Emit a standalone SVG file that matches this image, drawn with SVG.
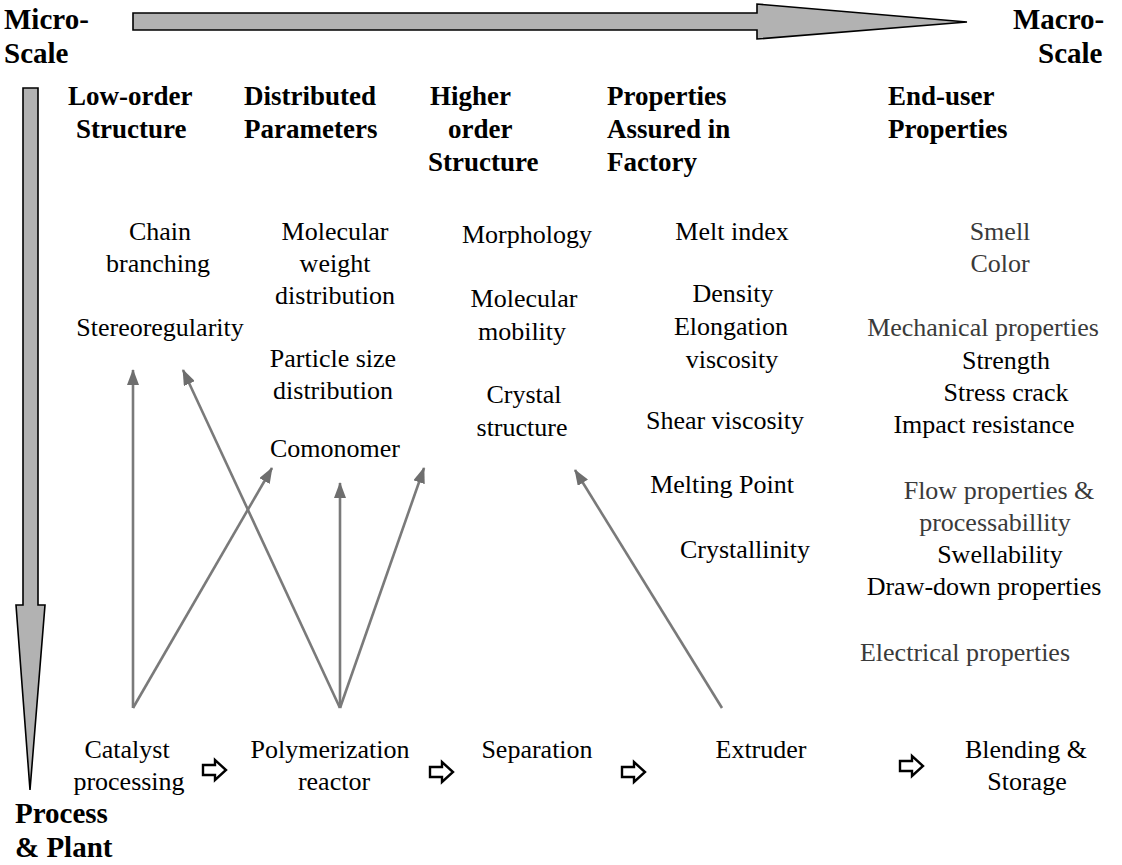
<svg xmlns="http://www.w3.org/2000/svg" width="1122" height="865" viewBox="0 0 1122 865">
<defs>
<marker id="ah" markerWidth="16" markerHeight="12" refX="15" refY="6" orient="auto" markerUnits="userSpaceOnUse">
<path d="M0,0 L16,6 L0,12 Z" fill="#6e6e6e"/>
</marker>
<path id="ha" d="M0,-5 H12 V-10 L23,0 L12,10 V5 H0 Z"/>
</defs>
<rect width="1122" height="865" fill="#fff"/>

<g id="scale-arrows" fill="#b2b2b2" stroke="#000" stroke-width="1.6">
<polygon points="133,13 757,13 757,4 967,22 757,39 757,30 133,30"/>
<polygon points="23,88 38,88 38,605 45,605 30,790 16,605 23,605"/>
</g>

<g id="axis-labels">
<text x="4" y="29" font-size="29" font-weight="bold" font-family="Liberation Serif">Micro-</text>
<text x="4" y="63" font-size="29" font-weight="bold" font-family="Liberation Serif">Scale</text>
<text x="1013" y="29" font-size="29" font-weight="bold" font-family="Liberation Serif">Macro-</text>
<text x="1038" y="63" font-size="29" font-weight="bold" font-family="Liberation Serif">Scale</text>
<text x="15" y="823" font-size="29" font-weight="bold" font-family="Liberation Serif">Process</text>
<text x="15" y="857" font-size="29" font-weight="bold" font-family="Liberation Serif">&amp; Plant</text>
</g>

<g id="headers">
<g id="h-low"><text x="68" y="105" font-size="27" font-weight="bold" font-family="Liberation Serif">Low-order</text><text x="76" y="138" font-size="27" font-weight="bold" font-family="Liberation Serif">Structure</text></g>
<g id="h-dist"><text x="244" y="105" font-size="27" font-weight="bold" font-family="Liberation Serif">Distributed</text><text x="244" y="138" font-size="27" font-weight="bold" font-family="Liberation Serif">Parameters</text></g>
<g id="h-high"><text x="430" y="105" font-size="27" font-weight="bold" font-family="Liberation Serif">Higher</text><text x="448" y="138" font-size="27" font-weight="bold" font-family="Liberation Serif">order</text><text x="428" y="171" font-size="27" font-weight="bold" font-family="Liberation Serif">Structure</text></g>
<g id="h-fact"><text x="607" y="105" font-size="27" font-weight="bold" font-family="Liberation Serif">Properties</text><text x="607" y="138" font-size="27" font-weight="bold" font-family="Liberation Serif">Assured in</text><text x="607" y="171" font-size="27" font-weight="bold" font-family="Liberation Serif">Factory</text></g>
<g id="h-end"><text x="888" y="105" font-size="27" font-weight="bold" font-family="Liberation Serif">End-user</text><text x="888" y="138" font-size="27" font-weight="bold" font-family="Liberation Serif">Properties</text></g>
</g>

<g id="col-low">
<g id="n-chain"><text x="160" y="240" font-size="26" text-anchor="middle" font-family="Liberation Serif">Chain</text><text x="158" y="272" font-size="26" text-anchor="middle" font-family="Liberation Serif">branching</text></g>
<g id="n-stereo"><text x="160" y="336" font-size="26" text-anchor="middle" font-family="Liberation Serif">Stereoregularity</text></g>
</g>

<g id="col-dist">
<g id="n-mwd"><text x="335" y="240" font-size="26" text-anchor="middle" font-family="Liberation Serif">Molecular</text><text x="335" y="272" font-size="26" text-anchor="middle" font-family="Liberation Serif">weight</text><text x="335" y="304" font-size="26" text-anchor="middle" font-family="Liberation Serif">distribution</text></g>
<g id="n-psd"><text x="333" y="367" font-size="26" text-anchor="middle" font-family="Liberation Serif">Particle size</text><text x="333" y="399" font-size="26" text-anchor="middle" font-family="Liberation Serif">distribution</text></g>
<g id="n-comon"><text x="335" y="457" font-size="26" text-anchor="middle" font-family="Liberation Serif">Comonomer</text></g>
</g>

<g id="col-high">
<g id="n-morph"><text x="527" y="243" font-size="26" text-anchor="middle" font-family="Liberation Serif">Morphology</text></g>
<g id="n-mob"><text x="524" y="307" font-size="26" text-anchor="middle" font-family="Liberation Serif">Molecular</text><text x="522" y="340" font-size="26" text-anchor="middle" font-family="Liberation Serif">mobility</text></g>
<g id="n-cryst"><text x="524" y="403" font-size="26" text-anchor="middle" font-family="Liberation Serif">Crystal</text><text x="522" y="436" font-size="26" text-anchor="middle" font-family="Liberation Serif">structure</text></g>
</g>

<g id="col-fact">
<g id="n-melt"><text x="732" y="240" font-size="26" text-anchor="middle" font-family="Liberation Serif">Melt index</text></g>
<g id="n-dens"><text x="733" y="302" font-size="26" text-anchor="middle" font-family="Liberation Serif">Density</text><text x="731" y="335" font-size="26" text-anchor="middle" font-family="Liberation Serif">Elongation</text><text x="732" y="368" font-size="26" text-anchor="middle" font-family="Liberation Serif">viscosity</text></g>
<g id="n-shear"><text x="725" y="429" font-size="26" text-anchor="middle" font-family="Liberation Serif">Shear viscosity</text></g>
<g id="n-mp"><text x="722" y="493" font-size="26" text-anchor="middle" font-family="Liberation Serif">Melting Point</text></g>
<g id="n-cryl"><text x="745" y="558" font-size="26" text-anchor="middle" font-family="Liberation Serif">Crystallinity</text></g>
</g>

<g id="col-end">
<g id="n-smell"><text x="1000" y="240" font-size="26" text-anchor="middle" fill="#3a3a3a" font-family="Liberation Serif">Smell</text><text x="1000" y="272" font-size="26" text-anchor="middle" fill="#3a3a3a" font-family="Liberation Serif">Color</text></g>
<g id="n-mech"><text x="983" y="336" font-size="26" text-anchor="middle" fill="#3a3a3a" font-family="Liberation Serif">Mechanical properties</text><text x="1006" y="369" font-size="26" text-anchor="middle" font-family="Liberation Serif">Strength</text><text x="1006" y="401" font-size="26" text-anchor="middle" font-family="Liberation Serif">Stress crack</text><text x="984" y="433" font-size="26" text-anchor="middle" font-family="Liberation Serif">Impact resistance</text></g>
<g id="n-flow"><text x="999" y="499" font-size="26" text-anchor="middle" fill="#3a3a3a" font-family="Liberation Serif">Flow properties &amp;</text><text x="995" y="531" font-size="26" text-anchor="middle" fill="#3a3a3a" font-family="Liberation Serif">processabillity</text><text x="1000" y="563" font-size="26" text-anchor="middle" font-family="Liberation Serif">Swellability</text><text x="984" y="595" font-size="26" text-anchor="middle" font-family="Liberation Serif">Draw-down properties</text></g>
<g id="n-elec"><text x="965" y="661" font-size="26" text-anchor="middle" fill="#3a3a3a" font-family="Liberation Serif">Electrical properties</text></g>
</g>

<g id="process">
<g id="p-cat"><text x="127" y="758" font-size="26" text-anchor="middle" font-family="Liberation Serif">Catalyst</text><text x="129" y="790" font-size="26" text-anchor="middle" font-family="Liberation Serif">processing</text></g>
<g id="p-poly"><text x="330" y="758" font-size="26" text-anchor="middle" font-family="Liberation Serif">Polymerization</text><text x="334" y="790" font-size="26" text-anchor="middle" font-family="Liberation Serif">reactor</text></g>
<g id="p-sep"><text x="537" y="758" font-size="26" text-anchor="middle" font-family="Liberation Serif">Separation</text></g>
<g id="p-ext"><text x="761" y="758" font-size="26" text-anchor="middle" font-family="Liberation Serif">Extruder</text></g>
<g id="p-blend"><text x="1026" y="758" font-size="26" text-anchor="middle" font-family="Liberation Serif">Blending &amp;</text><text x="1027" y="790" font-size="26" text-anchor="middle" font-family="Liberation Serif">Storage</text></g>
</g>

<g id="flow-arrows" fill="#fff" stroke="#000" stroke-width="2.4">
<use href="#ha" x="203" y="770"/>
<use href="#ha" x="430" y="772"/>
<use href="#ha" x="622" y="772"/>
<use href="#ha" x="900" y="766"/>
</g>

<g id="connectors" stroke="#7a7a7a" stroke-width="2.6" fill="none">
<line x1="133" y1="708" x2="133" y2="370" marker-end="url(#ah)"/>
<line x1="133" y1="708" x2="272" y2="468" marker-end="url(#ah)"/>
<line x1="340" y1="708" x2="183" y2="370" marker-end="url(#ah)"/>
<line x1="340" y1="708" x2="340" y2="483" marker-end="url(#ah)"/>
<line x1="340" y1="708" x2="424" y2="468" marker-end="url(#ah)"/>
<line x1="722" y1="708" x2="575" y2="470" marker-end="url(#ah)"/>
</g>
</svg>
